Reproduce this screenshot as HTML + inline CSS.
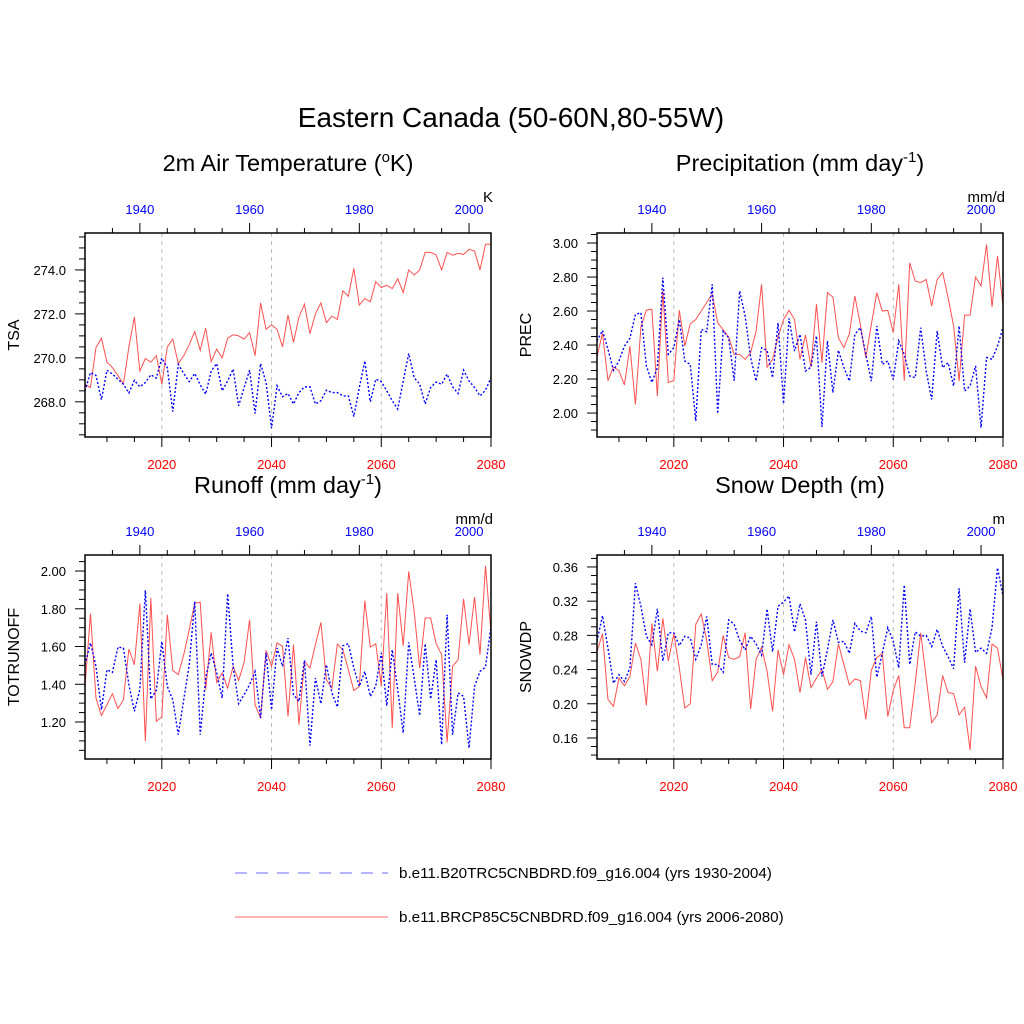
<!DOCTYPE html>
<html><head><meta charset="utf-8"><style>
html,body{margin:0;padding:0;background:#fff;}
svg{display:block;font-family:"Liberation Sans",Arial,sans-serif;}
</style></head><body>
<svg id="c" width="1024" height="1024" viewBox="0 0 1024 1024" xmlns="http://www.w3.org/2000/svg">
<rect width="1024" height="1024" fill="#fff"/>
<text x="511" y="127" font-size="28" text-anchor="middle">Eastern Canada (50-60N,80-55W)</text>
<g id="legend">
<line x1="235" y1="873" x2="388" y2="873" stroke="#6a6aff" stroke-width="1" stroke-dasharray="12,9"/>
<text x="399" y="878" font-size="15.2">b.e11.B20TRC5CNBDRD.f09_g16.004 (yrs 1930-2004)</text>
<line x1="235" y1="917" x2="388" y2="917" stroke="#ff6a6a" stroke-width="1"/>
<text x="399" y="922" font-size="15.2">b.e11.BRCP85C5CNBDRD.f09_g16.004 (yrs 2006-2080)</text>
</g>
</svg>
<script>
const years = Array.from({length:75},(_,i)=>2006+i);
const tsaFuture = [268.8,268.65,270.47,270.9,269.8,269.56,269.2,268.8,270.5,271.86,269.4,269.97,269.8,270.1,268.8,270.5,270.85,269.74,270.1,270.6,271.2,270.35,271.35,269.83,270.4,270.0,270.9,271.05,271.0,270.85,271.15,270.1,272.5,271.3,271.5,271.3,270.5,271.95,270.7,271.86,272.44,271.1,272.0,272.5,271.6,271.9,271.75,273.05,272.8,274.07,272.4,272.7,272.55,273.47,273.2,273.3,273.15,273.6,272.97,274.0,273.77,274.0,274.8,274.8,274.68,274.0,274.8,274.67,274.76,274.7,274.94,274.86,274.0,275.17,275.17];
const tsaHist = [268.5,269.33,269.2,268.1,269.44,269.26,269.03,268.8,268.4,268.98,268.68,268.88,269.23,269.08,269.99,269.56,267.56,269.7,269.29,268.92,269.29,268.77,268.35,269.4,269.74,268.5,268.95,269.49,267.82,268.65,269.44,267.47,269.74,268.88,266.8,268.73,268.23,268.38,267.9,268.42,268.68,268.68,267.9,268.05,268.53,268.42,268.42,268.27,268.27,267.33,268.65,269.86,268.0,269.03,268.92,268.5,268.05,267.67,268.95,270.2,269.1,268.8,267.9,268.65,268.9,268.8,269.26,268.68,268.38,269.44,268.95,268.65,268.27,268.53,269.1];
const precFuture = [2.33,2.47,2.19,2.27,2.25,2.165,2.394,2.05,2.506,2.606,2.61,2.10,2.718,2.18,2.19,2.604,2.394,2.525,2.55,2.60,2.65,2.70,2.53,2.49,2.447,2.345,2.345,2.316,2.355,2.482,2.757,2.27,2.316,2.447,2.55,2.604,2.55,2.316,2.459,2.27,2.64,2.296,2.708,2.682,2.443,2.384,2.467,2.688,2.52,2.326,2.52,2.708,2.60,2.604,2.473,2.757,2.19,2.884,2.776,2.767,2.786,2.63,2.786,2.826,2.678,2.512,2.188,2.576,2.576,2.80,2.747,2.992,2.624,2.924,2.63];
const precHist = [2.424,2.486,2.375,2.251,2.306,2.394,2.44,2.58,2.59,2.277,2.18,2.267,2.796,2.345,2.384,2.55,2.306,2.286,1.953,2.492,2.478,2.757,1.996,2.482,2.443,2.19,2.718,2.57,2.326,2.188,2.384,2.369,2.208,2.53,2.055,2.557,2.365,2.463,2.247,2.27,2.453,1.918,2.424,2.12,2.369,2.267,2.188,2.463,2.502,2.345,2.188,2.512,2.286,2.306,2.198,2.424,2.345,2.218,2.208,2.502,2.247,2.08,2.482,2.267,2.296,2.159,2.512,2.129,2.159,2.277,1.914,2.326,2.316,2.394,2.502];
const runoffFuture = [1.389,1.774,1.327,1.234,1.292,1.35,1.271,1.318,1.587,1.504,1.827,1.098,1.857,1.204,1.227,1.769,1.474,1.451,1.557,1.689,1.83,1.834,1.371,1.675,1.41,1.46,1.38,1.495,1.421,1.516,1.742,1.292,1.221,1.58,1.495,1.619,1.601,1.23,1.61,1.186,1.521,1.486,1.61,1.728,1.424,1.38,1.613,1.583,1.477,1.366,1.389,1.843,1.597,1.615,1.392,1.883,1.168,1.883,1.604,1.998,1.786,1.486,1.751,1.751,1.615,1.557,1.092,1.495,1.53,1.852,1.61,1.862,1.557,2.028,1.672];
const runoffHist = [1.504,1.619,1.495,1.265,1.477,1.463,1.597,1.592,1.398,1.257,1.371,1.898,1.322,1.368,1.627,1.389,1.318,1.133,1.318,1.504,1.839,1.133,1.433,1.566,1.46,1.327,1.88,1.495,1.297,1.345,1.398,1.468,1.221,1.566,1.265,1.592,1.495,1.645,1.345,1.309,1.527,1.075,1.433,1.297,1.504,1.354,1.279,1.604,1.615,1.486,1.389,1.468,1.336,1.392,1.566,1.286,1.583,1.371,1.142,1.622,1.433,1.234,1.615,1.322,1.53,1.08,1.769,1.133,1.354,1.336,1.062,1.389,1.468,1.491,1.707];
const snowFuture = [0.261,0.282,0.205,0.197,0.23,0.221,0.232,0.271,0.252,0.198,0.294,0.238,0.3,0.25,0.282,0.242,0.195,0.2,0.293,0.305,0.274,0.227,0.237,0.28,0.254,0.252,0.255,0.283,0.194,0.252,0.266,0.238,0.191,0.263,0.234,0.269,0.252,0.213,0.254,0.219,0.23,0.24,0.217,0.226,0.27,0.246,0.222,0.229,0.227,0.182,0.239,0.254,0.259,0.185,0.216,0.233,0.172,0.172,0.224,0.283,0.23,0.178,0.187,0.233,0.213,0.212,0.187,0.196,0.146,0.244,0.22,0.207,0.27,0.265,0.228];
const snowHist = [0.273,0.303,0.265,0.224,0.234,0.226,0.242,0.341,0.314,0.279,0.269,0.311,0.25,0.283,0.283,0.268,0.279,0.277,0.252,0.269,0.302,0.246,0.246,0.237,0.298,0.293,0.274,0.263,0.279,0.27,0.257,0.311,0.261,0.314,0.319,0.326,0.284,0.317,0.298,0.234,0.296,0.232,0.263,0.298,0.272,0.273,0.259,0.294,0.285,0.283,0.302,0.231,0.259,0.289,0.273,0.242,0.339,0.246,0.284,0.279,0.28,0.267,0.287,0.267,0.255,0.241,0.335,0.248,0.311,0.26,0.265,0.259,0.289,0.359,0.326];
const bottomTicks = [2020,2040,2060,2080];
const topTicks = [1940,1960,1980,2000];
const tsaTicks = [268,270,272,274];
const precTicks = [2.0,2.2,2.4,2.6,2.8,3.0];
const runoffTicks = [1.2,1.4,1.6,1.8,2.0];
const snowTicks = [0.16,0.20,0.24,0.28,0.32,0.36];

const NS='http://www.w3.org/2000/svg';
const svg=document.getElementById('c');
function mk(tag,attrs,parent){const e=document.createElementNS(NS,tag);for(const k in attrs)e.setAttribute(k,attrs[k]);(parent||svg).appendChild(e);return e;}

const panels=[
 {key:'tsa',x0:85,y0:233,titleParts:['2m Air Temperature (','o','K)'],ylab:'TSA',unit:'K',ymin:266.4,ymax:275.68,ticks:tsaTicks,minor:0.5,dec:1,fut:tsaFuture,hist:tsaHist},
 {key:'prec',x0:597,y0:233,titleParts:['Precipitation (mm day','-1',')'],ylab:'PREC',unit:'mm/d',ymin:1.859,ymax:3.059,ticks:precTicks,minor:0.05,dec:2,fut:precFuture,hist:precHist},
 {key:'runoff',x0:85,y0:555,titleParts:['Runoff (mm day','-1',')'],ylab:'TOTRUNOFF',unit:'mm/d',ymin:1.004,ymax:2.085,ticks:runoffTicks,minor:0.05,dec:2,fut:runoffFuture,hist:runoffHist},
 {key:'snow',x0:597,y0:555,titleParts:['Snow Depth (m)'],ylab:'SNOWDP',unit:'m',ymin:0.1354,ymax:0.374,ticks:snowTicks,minor:0.01,dec:2,fut:snowFuture,hist:snowHist}
];
const W=406,H=204;
panels.forEach(p=>{
 const g=mk('g',{});
 
 
 const xs=y=>p.x0+(y-2006)*W/74;
 const xh=y=>p.x0+(y-1930)*W/74;
 const ys=v=>p.y0+H-(v-p.ymin)/(p.ymax-p.ymin)*H;
 const t=mk('text',{x:p.x0+W/2,y:p.y0-62,'font-size':23.5,'text-anchor':'middle'},g);
 
 
 t.appendChild(document.createTextNode(p.titleParts[0]));
 if(p.titleParts.length>1){const s=mk('tspan',{dy:-9,'font-size':15},t);s.textContent=p.titleParts[1];const s2=mk('tspan',{dy:9},t);s2.textContent=p.titleParts[2];}
 const u=mk('text',{x:p.x0+W+2,y:p.y0-31,'font-size':15,'text-anchor':'end'},g);
 
 
 u.textContent=p.unit;
 const yl=mk('text',{x:0,y:0,'font-size':16,'text-anchor':'middle',transform:`translate(${p.x0-66},${p.y0+H/2}) rotate(-90)`},g);
 
 
 yl.textContent=p.ylab;
 [2020,2040,2060].forEach(yr=>{const l=mk('line',{x1:xs(yr),x2:xs(yr),y1:p.y0,y2:p.y0+H,stroke:'#bbb','stroke-dasharray':'4,4','stroke-width':1},g);
  
  });
 for(let yr=2010;yr<=2080;yr+=5){const maj=yr%20===0;mk('line',{x1:xs(yr),x2:xs(yr),y1:p.y0+H,y2:p.y0+H+(maj?10:5),stroke:'#000','stroke-width':1},g);}
 bottomTicks.forEach(yr=>{const tx=mk('text',{x:xs(yr),y:p.y0+H+32,'font-size':13,'text-anchor':'middle',fill:'#ff0000'},g);
  
  
  tx.textContent=yr;});
 for(let yr=1935;yr<=2004;yr+=5){const maj=yr%20===0;mk('line',{x1:xh(yr),x2:xh(yr),y1:p.y0,y2:p.y0-(maj?10:5),stroke:'#000','stroke-width':1},g);}
 topTicks.forEach(yr=>{const tx=mk('text',{x:xh(yr),y:p.y0-19,'font-size':13,'text-anchor':'middle',fill:'#0000ff'},g);
  
  
  tx.textContent=yr;});
 const mstart=Math.ceil(p.ymin/p.minor-1e-6);
 for(let k=mstart;k*p.minor<=p.ymax+1e-9;k++){const v=k*p.minor;const maj=p.ticks.some(tv=>Math.abs(tv-v)<1e-6);
  mk('line',{x1:p.x0,x2:p.x0-(maj?10:6),y1:ys(v),y2:ys(v),stroke:'#000','stroke-width':1},g);}
 p.ticks.forEach(v=>{const tx=mk('text',{x:p.x0-19,y:ys(v)+5,'font-size':13,'text-anchor':'end'},g);
  
  
  tx.textContent=v.toFixed(p.dec);});
 const clipId='clip-'+p.key;
 const cp=mk('clipPath',{id:clipId},g);mk('rect',{x:p.x0,y:p.y0,width:W,height:H},cp);
 const fl=mk('polyline',{points:p.fut.map((v,i)=>xs(years[i])+','+ys(v)).join(' '),fill:'none',stroke:'#ff5050','stroke-width':1,'clip-path':`url(#${clipId})`},g);
 
 
 const hl=mk('polyline',{points:p.hist.map((v,i)=>xs(years[i])+','+ys(v)).join(' '),fill:'none',stroke:'#0000ff','stroke-width':1.4,'stroke-dasharray':'2,2','clip-path':`url(#${clipId})`},g);
 
 
 const fr=mk('rect',{x:p.x0,y:p.y0,width:W,height:H,fill:'none',stroke:'#000','stroke-width':1.5},g);
 
 
});
</script>
</body></html>
